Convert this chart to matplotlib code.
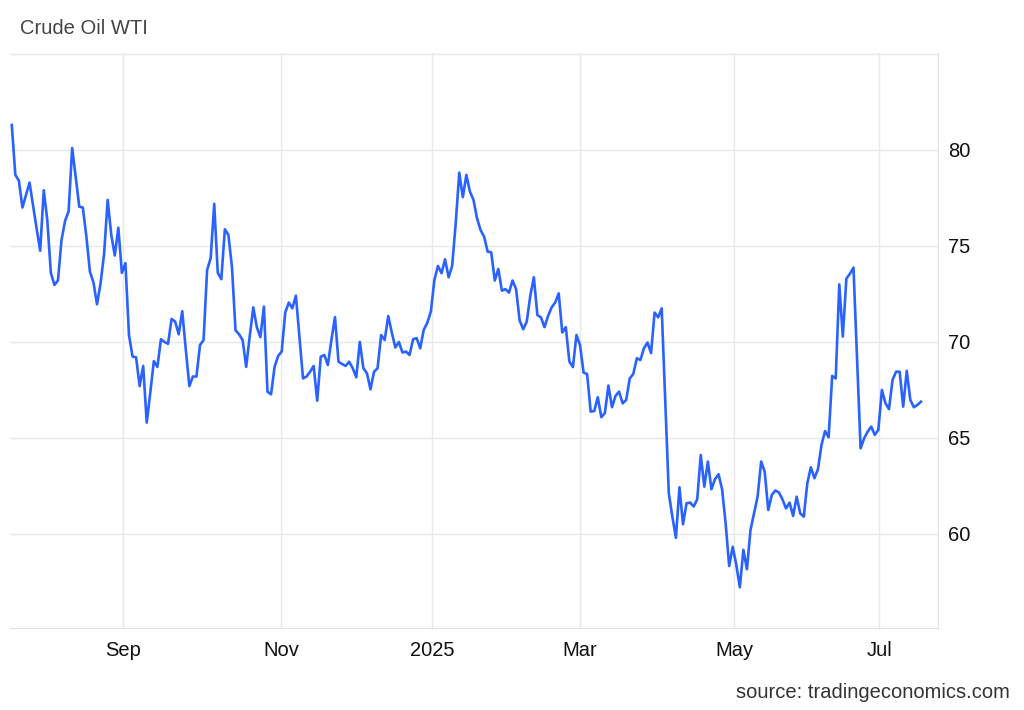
import matplotlib
matplotlib.use("Agg")
import matplotlib.pyplot as plt

plt.rcParams['font.family'] = ['Liberation Sans', 'DejaVu Sans']

# daily WTI closes (USD/bbl), mid-Jul 2024 .. mid-Jul 2025
price = [
    81.3, 78.7, 78.4, 77.0, 77.65, 78.3, 77.1, 75.9, 74.75, 77.9, 76.35, 73.6,
    72.97, 73.2, 75.3, 76.3, 76.8, 80.1, 78.6, 77.05, 77.0, 75.5, 73.66, 73.1,
    71.96, 73.05, 74.6, 77.4, 75.6, 74.5, 75.95, 73.6, 74.1,
    70.36, 69.24, 69.2, 67.7, 68.75, 65.8, 67.36, 69.0, 68.7, 70.14, 70.0, 69.9,
    71.2, 71.06, 70.4, 71.6, 69.6, 67.7, 68.2, 68.2, 69.84, 70.1, 73.75, 74.36,
    77.19, 73.6, 73.27, 75.87, 75.57, 73.9, 70.6, 70.4, 70.1, 68.7,
    70.3, 71.8, 70.77, 70.25, 71.84, 67.41, 67.27, 68.7, 69.27, 69.5, 71.53,
    72.05, 71.75, 72.41, 70.28, 68.1, 68.2, 68.45, 68.75, 66.94, 69.23, 69.32,
    68.8, 70.1, 71.29, 68.97, 68.85, 68.75, 68.97, 68.63, 68.16, 70.0, 68.63, 68.37,
    67.53, 68.45, 68.63, 70.36, 70.1, 71.35, 70.49, 69.71, 70.0, 69.45, 69.5,
    69.32, 70.14, 70.2, 69.67, 70.63, 71.0, 71.58, 73.23, 73.96, 73.58, 74.3,
    73.37, 73.96, 76.18, 78.82, 77.54, 78.7, 77.83, 77.4, 76.44, 75.83, 75.48,
    74.7, 74.67, 73.2, 73.8, 72.67, 72.75, 72.57, 73.2, 72.75, 71.12, 70.66,
    71.06, 72.4, 73.37, 71.4, 71.28, 70.77, 71.35, 71.8, 72.05, 72.53, 70.49,
    70.77, 68.98, 68.69, 70.36, 69.84, 68.4, 68.33, 66.37, 66.4, 67.12, 66.08, 66.3,
    67.73, 66.6, 67.19, 67.41, 66.8, 66.98, 68.1, 68.33, 69.15, 69.06, 69.67,
    69.97, 69.42, 71.53, 71.28, 71.75, 67.0, 62.12, 60.9, 59.8, 62.43, 60.5,
    61.6, 61.63, 61.43, 61.8, 64.11, 62.46, 63.77, 62.33, 62.85, 63.11, 62.33,
    60.56, 58.33, 59.33, 58.39, 57.22, 59.17, 58.16, 60.2, 61.07, 61.94, 63.77,
    63.25, 61.25, 62.03, 62.26, 62.16, 61.8, 61.33, 61.63, 60.94, 61.94, 61.07,
    60.9, 62.64, 63.47, 62.9, 63.37, 64.64, 65.36, 65.03, 68.23, 68.1, 73.0,
    70.28, 73.3,
    73.55, 73.87, 69.2, 64.46, 64.98, 65.33, 65.59, 65.16, 65.42, 67.5, 66.81,
    66.5, 68.02, 68.45, 68.45, 66.63, 68.5, 66.98, 66.6, 66.72, 66.89,
]
days = list(range(len(price)))

month_labels = ['Sep', 'Nov', '2025', 'Mar', 'May', 'Jul']
month_pos = [31.3, 75.8, 118.3, 160.0, 203.4, 244.2]
y_ticks = [60, 65, 70, 75, 80, 85]

fig = plt.figure(figsize=(10.24, 7.10), dpi=100)
ax = fig.add_axes([10 / 1024, 1 - 628 / 710, 928 / 1024, 575 / 710])

ax.plot(days, price, color='#2962ff', lw=1.9, solid_joinstyle='round')

ax.set_xlim(-0.5, 260.8)
ax.set_ylim(55.1, 85.05)
ax.set_xticks(month_pos)
ax.set_xticklabels(month_labels)
ax.set_yticks(y_ticks)
ax.set_yticklabels([str(v) for v in y_ticks[:-1]] + [''])
ax.yaxis.tick_right()

ax.grid(True, color='#e8e8e8', lw=1.0)
ax.set_axisbelow(True)
for side in ['left', 'top']:
    ax.spines[side].set_visible(False)
for side in ['right', 'bottom']:
    ax.spines[side].set_color('#e2e2e2')
ax.tick_params(axis='both', length=0, labelsize=14.5, colors='#111111')
ax.tick_params(axis='x', pad=9)
ax.tick_params(axis='y', pad=7)

fig.text(20 / 1024, 1 - 28 / 710, 'Crude Oil WTI', fontsize=14.5, color='#444444',
         va='center', ha='left')
fig.text(1010 / 1024, 1 - 693 / 710, 'source: tradingeconomics.com', fontsize=14.5,
         color='#333333', va='center', ha='right')

fig.savefig('out.png', dpi=100)
